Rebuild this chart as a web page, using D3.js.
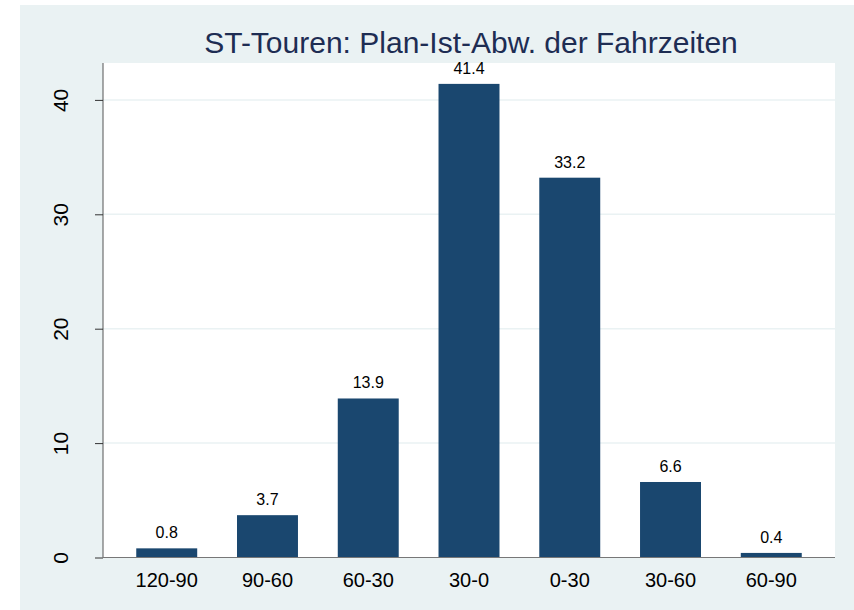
<!DOCTYPE html>
<html>
<head>
<meta charset="utf-8">
<script src="https://cdn.jsdelivr.net/npm/d3@7"></script>
<style>
    body { margin: 0; background: #fff; }
    text { font-family: "Liberation Sans", Arial, Helvetica, sans-serif; }
</style>
</head>
<body>
<div id="chart-area"></div>
<script>
// Data
var categories = ["120-90", "90-60", "60-30", "30-0", "0-30", "30-60", "60-90"];
var percents = [0.8, 3.7, 13.9, 41.4, 33.2, 6.6, 0.4];
var yTicks = [0, 10, 20, 30, 40];
var titleText = "ST-Touren: Plan-Ist-Abw. der Fahrzeiten";

var totalWidth = 854, totalHeight = 610;
var plot = { left: 103, right: 835, top: 63, bottom: 557.5 };

var svg = d3.select("#chart-area")
    .append("svg")
        .attr("width", totalWidth)
        .attr("height", totalHeight);

// Outer graph region
svg.append("rect")
    .attr("x", 20)
    .attr("y", 5)
    .attr("width", totalWidth - 20)
    .attr("height", totalHeight - 5)
    .attr("fill", "#eaf2f3");

// Plot region
svg.append("rect")
    .attr("x", plot.left)
    .attr("y", plot.top)
    .attr("width", plot.right - plot.left)
    .attr("height", plot.bottom - plot.top)
    .attr("fill", "#ffffff");

// Scales
var x = d3.scaleBand()
    .domain(categories)
    .range([plot.left, plot.right])
    .paddingInner(0.395)
    .paddingOuter(0.33);
var y = d3.scaleLinear()
    .domain([0, 10])
    .range([plot.bottom, plot.bottom - 114.4]);

// Grid lines
svg.append("g")
    .selectAll("line")
    .data(yTicks.filter(function(d){ return d > 0; }))
    .enter().append("line")
        .attr("x1", plot.left)
        .attr("x2", plot.right)
        .attr("y1", function(d){ return y(d); })
        .attr("y2", function(d){ return y(d); })
        .attr("stroke", "#eaf2f3")
        .attr("stroke-width", 1.5);

// Bars
svg.append("g")
    .selectAll("rect")
    .data(percents)
    .enter().append("rect")
        .attr("x", function(d, i){ return x(categories[i]); })
        .attr("y", function(d){ return y(d); })
        .attr("width", x.bandwidth())
        .attr("height", function(d){ return y(0) - y(d); })
        .attr("fill", "#1a476f");

// Bar labels
svg.append("g")
    .selectAll("text")
    .data(percents)
    .enter().append("text")
        .attr("x", function(d, i){ return x(categories[i]) + x.bandwidth() / 2; })
        .attr("y", function(d){ return y(d) - 10; })
        .attr("text-anchor", "middle")
        .attr("font-size", "16px")
        .attr("fill", "#000")
        .text(function(d){ return d3.format(".1f")(d); });

// Y Axis
var yAxisCall = d3.axisLeft(y)
    .tickValues(yTicks)
    .tickSize(8)
    .tickPadding(0)
    .tickFormat(d3.format("d"));
var yAxis = svg.append("g")
    .attr("transform", "translate(" + plot.left + ",0)")
    .call(yAxisCall);
yAxis.select(".domain")
    .attr("d", "M0," + plot.top + "V" + plot.bottom)
    .attr("stroke", "#555");
yAxis.selectAll(".tick line").attr("stroke", "#333");
yAxis.selectAll(".tick text")
    .attr("font-size", "21px")
    .attr("fill", "#000")
    .attr("text-anchor", "middle")
    .attr("x", null)
    .attr("dy", null)
    .attr("transform", "translate(-35,0) rotate(-90)");

// X Axis
var xAxisCall = d3.axisBottom(x)
    .tickSize(0)
    .tickPadding(0);
var xAxis = svg.append("g")
    .attr("transform", "translate(0," + plot.bottom + ")")
    .call(xAxisCall);
xAxis.select(".domain")
    .attr("d", "M" + plot.left + ",0H" + plot.right)
    .attr("stroke", "#777");
xAxis.selectAll(".tick text")
    .attr("font-size", "20px")
    .attr("fill", "#000")
    .attr("dy", null)
    .attr("y", 29);

// Title
svg.append("text")
    .attr("x", (plot.left + plot.right) / 2 + 2)
    .attr("y", 53)
    .attr("text-anchor", "middle")
    .attr("font-size", "30px")
    .attr("fill", "#1e2d53")
    .text(titleText);
</script>
</body>
</html>
